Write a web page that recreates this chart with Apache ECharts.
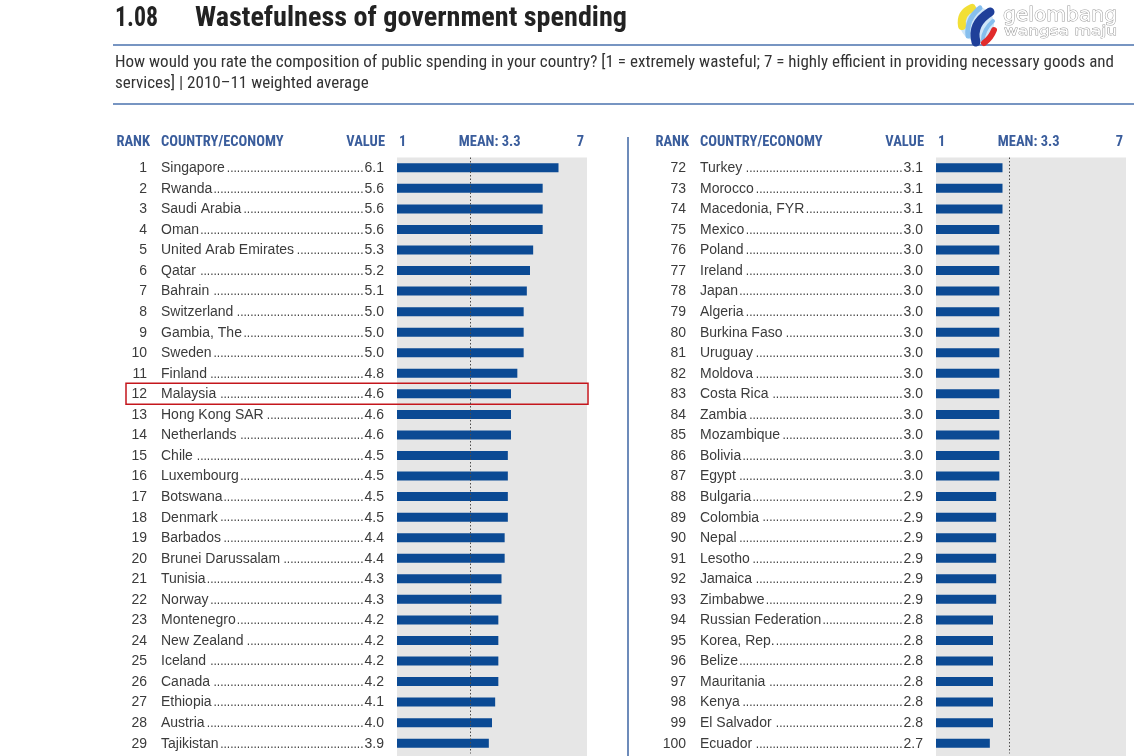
<!DOCTYPE html>
<html>
<head>
<meta charset="utf-8">
<title>1.08 Wastefulness of government spending</title>
<script src="https://cdn.jsdelivr.net/npm/echarts@6/dist/echarts.min.js"></script>
<style>
  html, body { margin: 0; padding: 0; background: #fff; }
  #chart { width: 1134px; height: 756px; }
</style>
</head>
<body>
<div id="chart"></div>
<script>
// ranks 1-29
const leftRanks = [1, 2, 3, 4, 5, 6, 7, 8, 9, 10, 11, 12, 13, 14, 15, 16, 17, 18, 19, 20, 21, 22, 23, 24, 25, 26, 27, 28, 29];
const leftCountries = ['Singapore', 'Rwanda', 'Saudi Arabia', 'Oman', 'United Arab Emirates', 'Qatar', 'Bahrain',
  'Switzerland', 'Gambia, The', 'Sweden', 'Finland', 'Malaysia', 'Hong Kong SAR', 'Netherlands', 'Chile',
  'Luxembourg', 'Botswana', 'Denmark', 'Barbados', 'Brunei Darussalam', 'Tunisia', 'Norway', 'Montenegro',
  'New Zealand', 'Iceland', 'Canada', 'Ethiopia', 'Austria', 'Tajikistan'];
const leftValues = [6.1, 5.6, 5.6, 5.6, 5.3, 5.2, 5.1, 5.0, 5.0, 5.0, 4.8, 4.6, 4.6, 4.6, 4.5,
  4.5, 4.5, 4.5, 4.4, 4.4, 4.3, 4.3, 4.2, 4.2, 4.2, 4.2, 4.1, 4.0, 3.9];

// ranks 72-100
const rightRanks = [72, 73, 74, 75, 76, 77, 78, 79, 80, 81, 82, 83, 84, 85, 86, 87, 88, 89, 90, 91, 92, 93, 94, 95, 96, 97, 98, 99, 100];
const rightCountries = ['Turkey', 'Morocco', 'Macedonia, FYR', 'Mexico', 'Poland', 'Ireland', 'Japan', 'Algeria',
  'Burkina Faso', 'Uruguay', 'Moldova', 'Costa Rica', 'Zambia', 'Mozambique', 'Bolivia', 'Egypt', 'Bulgaria',
  'Colombia', 'Nepal', 'Lesotho', 'Jamaica', 'Zimbabwe', 'Russian Federation', 'Korea, Rep.', 'Belize',
  'Mauritania', 'Kenya', 'El Salvador', 'Ecuador'];
const rightValues = [3.1, 3.1, 3.1, 3.0, 3.0, 3.0, 3.0, 3.0, 3.0, 3.0, 3.0, 3.0, 3.0, 3.0, 3.0, 3.0, 2.9,
  2.9, 2.9, 2.9, 2.9, 2.9, 2.8, 2.8, 2.8, 2.8, 2.8, 2.8, 2.7];

const scaleMin = 1;
const scaleMax = 7;
const meanValue = 3.3;
const highlighted = ['Malaysia'];

const BODY = "'Liberation Sans', Arial, sans-serif";
const NARROW = "'Liberation Sans Narrow', 'Arial Narrow', 'Roboto Condensed', sans-serif";
const ROW_FONT = '14px ' + BODY;
const DOT_FONT = '12px ' + BODY;
const HEAD_FONT = 'bold 14.5px ' + NARROW;
const TITLE_FONT = 'bold 28px ' + NARROW;
const SUB_FONT = '16px ' + NARROW;
const TEXT = '#3b3b3b';
const HEAD = '#3a5d9c';
const BAR = '#0b4a94';
const PANEL = '#e6e6e6';

const measureCtx = document.createElement('canvas').getContext('2d');
function textW(str, font) {
  measureCtx.font = font;
  return measureCtx.measureText(str).width;
}
const dotW = textW('.', DOT_FONT);

// rank, name, dotted leader and value to the left of each bar
function rowRenderer(ranks, names, values) {
  return function (params, api) {
    const i = api.value(1);
    const p = api.coord([scaleMin, i]);
    const pEnd = api.coord([scaleMax, i]);
    const x0 = p[0], y = p[1] + 0.5;
    const nameX = x0 - 236;
    const valueX = x0 - 13;
    const valStr = values[i].toFixed(1);
    const nameEnd = nameX + textW(names[i], ROW_FONT);
    const dotsEnd = valueX - textW(valStr, ROW_FONT) - 1;
    const n = Math.max(0, Math.floor((dotsEnd - nameEnd - 1) / dotW));
    const kids = [
      { type: 'text', style: { x: x0 - 250, y: y, text: String(ranks[i]), align: 'right', verticalAlign: 'middle', font: ROW_FONT, fill: TEXT } },
      { type: 'text', style: { x: nameX, y: y, text: names[i], align: 'left', verticalAlign: 'middle', font: ROW_FONT, fill: TEXT } },
      { type: 'text', style: { x: dotsEnd, y: y + 0.5, text: '.'.repeat(n), align: 'right', verticalAlign: 'middle', font: DOT_FONT, fill: TEXT } },
      { type: 'text', style: { x: valueX, y: y, text: valStr, align: 'right', verticalAlign: 'middle', font: ROW_FONT, fill: TEXT } }
    ];
    if (highlighted.indexOf(names[i]) >= 0) {
      kids.push({ type: 'rect', shape: { x: x0 - 271, y: p[1] - 10.5, width: pEnd[0] + 1 - (x0 - 271), height: 21 },
        style: { fill: null, stroke: '#c4161c', lineWidth: 1.5 } });
    }
    if (params.dataIndex === 0) {
      const hy = p[1] - 25;
      const mx = api.coord([meanValue, i])[0];
      kids.push(
        { type: 'text', style: { x: x0 - 247, y: hy, text: 'RANK', align: 'right', verticalAlign: 'middle', font: HEAD_FONT, fill: HEAD } },
        { type: 'text', style: { x: nameX, y: hy, text: 'COUNTRY/ECONOMY', align: 'left', verticalAlign: 'middle', font: HEAD_FONT, fill: HEAD } },
        { type: 'text', style: { x: x0 - 12, y: hy, text: 'VALUE', align: 'right', verticalAlign: 'middle', font: HEAD_FONT, fill: HEAD } },
        { type: 'text', style: { x: x0 + 2, y: hy, text: String(scaleMin), align: 'left', verticalAlign: 'middle', font: HEAD_FONT, fill: HEAD } },
        { type: 'text', style: { x: mx - 11, y: hy, text: 'MEAN: ' + meanValue, align: 'left', verticalAlign: 'middle', font: HEAD_FONT, fill: HEAD } },
        { type: 'text', style: { x: pEnd[0] - 3, y: hy, text: String(scaleMax), align: 'right', verticalAlign: 'middle', font: HEAD_FONT, fill: HEAD } }
      );
    }
    return { type: 'group', children: kids };
  };
}

function panel(idx, names, ranks, values) {
  const xAxis = { type: 'value', gridIndex: idx, min: scaleMin, max: scaleMax, startValue: scaleMin, show: false };
  const yAxis = { type: 'category', gridIndex: idx, data: names, inverse: true, show: false };
  const bars = {
    type: 'bar', xAxisIndex: idx, yAxisIndex: idx, data: values, barWidth: 9,
    itemStyle: { color: BAR }, silent: true,
    markLine: {
      silent: true, symbol: 'none', label: { show: false },
      lineStyle: { color: '#4a4a4a', width: 1, type: [1.5, 2] },
      data: [{ xAxis: meanValue }]
    }
  };
  const labels = {
    type: 'custom', xAxisIndex: idx, yAxisIndex: idx, silent: true,
    data: names.map((n, i) => [scaleMin, i]),
    renderItem: rowRenderer(ranks, names, values)
  };
  return { xAxis, yAxis, series: [bars, labels] };
}

const chart = echarts.init(document.getElementById('chart'), null, { renderer: 'canvas' });
const L = panel(0, leftCountries, leftRanks, leftValues);
const R = panel(1, rightCountries, rightRanks, rightValues);

const titleMain = 'Wastefulness of government spending';
const subLine1 = 'How would you rate the composition of public spending in your country? [1 = extremely wasteful; 7 = highly efficient in providing necessary goods and';
const subLine2 = 'services] | 2010\u201311 weighted average';
const subScale = 999 / textW(subLine1, SUB_FONT);
const logoFont1 = '20px DejaVu Sans';
const logoFont2 = '12px DejaVu Sans';

chart.setOption({
  animation: false,
  backgroundColor: '#fff',
  grid: [
    { left: 397, width: 190, top: 157.5, height: 596, show: true, backgroundColor: PANEL, borderWidth: 0 },
    { left: 936, width: 190, top: 157.5, height: 596, show: true, backgroundColor: PANEL, borderWidth: 0 }
  ],
  xAxis: [L.xAxis, R.xAxis],
  yAxis: [L.yAxis, R.yAxis],
  series: L.series.concat(R.series),
  graphic: [
    // panel backdrop continues past the last row
    { type: 'rect', z: -10, shape: { x: 397, y: 753, width: 190, height: 3 }, style: { fill: PANEL } },
    { type: 'rect', z: -10, shape: { x: 936, y: 753, width: 190, height: 3 }, style: { fill: PANEL } },
    { type: 'text', x: 115, y: 5, scaleX: 43 / textW('1.08', TITLE_FONT), style: { text: '1.08', font: TITLE_FONT, fill: '#222' } },
    { type: 'text', x: 195, y: 5, scaleX: 432 / textW(titleMain, TITLE_FONT), style: { text: titleMain, font: TITLE_FONT, fill: '#222' } },
    { type: 'line', shape: { x1: 113, y1: 45, x2: 1134, y2: 45 }, style: { stroke: '#4a72ae', lineWidth: 1.5 } },
    { type: 'text', x: 115, y: 55, scaleX: subScale, style: { text: subLine1, font: SUB_FONT, fill: '#333' } },
    { type: 'text', x: 115, y: 76, scaleX: subScale, style: { text: subLine2, font: SUB_FONT, fill: '#333' } },
    { type: 'line', shape: { x1: 113, y1: 104, x2: 1134, y2: 104 }, style: { stroke: '#4a72ae', lineWidth: 1.5 } },
    { type: 'line', shape: { x1: 628, y1: 137, x2: 628, y2: 756 }, style: { stroke: '#3d64a3', lineWidth: 1.5 } },
    // logo
    {
      type: 'group', x: 977, y: 24,
      children: [
        { type: 'circle', shape: { cx: 0, cy: 0, r: 17 }, style: { fill: '#cfe6f8' } },
        { type: 'bezierCurve', shape: { x1: -5, y1: -16, cpx1: -17, cpy1: -11, x2: -15, y2: 2 }, style: { stroke: '#f2df36', lineWidth: 8, fill: null, lineCap: 'round' } },
        { type: 'bezierCurve', shape: { x1: 3, y1: -16, cpx1: -11, cpy1: -5, x2: -9, y2: 12 }, style: { stroke: '#86bfee', lineWidth: 5, fill: null, lineCap: 'round' } },
        { type: 'bezierCurve', shape: { x1: 13, y1: -12, cpx1: -6, cpy1: 0, x2: -1, y2: 18 }, style: { stroke: '#1f3f99', lineWidth: 9, fill: null, lineCap: 'round' } },
        { type: 'bezierCurve', shape: { x1: 16, y1: -3, cpx1: 6, cpy1: 6, x2: 6, y2: 16 }, style: { stroke: '#86bfee', lineWidth: 4, fill: null, lineCap: 'round' } },
        { type: 'bezierCurve', shape: { x1: 17, y1: 6, cpx1: 14, cpy1: 14, x2: 7, y2: 19 }, style: { stroke: '#e12b2b', lineWidth: 6, fill: null, lineCap: 'round' } }
      ]
    },
    { type: 'text', x: 1003, y: 6, scaleX: 114 / textW('gelombang', logoFont1), style: { text: 'gelombang', font: logoFont1, fill: '#fff', stroke: '#9a9a9a', lineWidth: 1 } },
    { type: 'text', x: 1004, y: 26, scaleX: 113 / textW('wangsa maju', logoFont2), style: { text: 'wangsa maju', font: logoFont2, fill: '#fff', stroke: '#9a9a9a', lineWidth: 0.8 } }
  ]
});
</script>
</body>
</html>
